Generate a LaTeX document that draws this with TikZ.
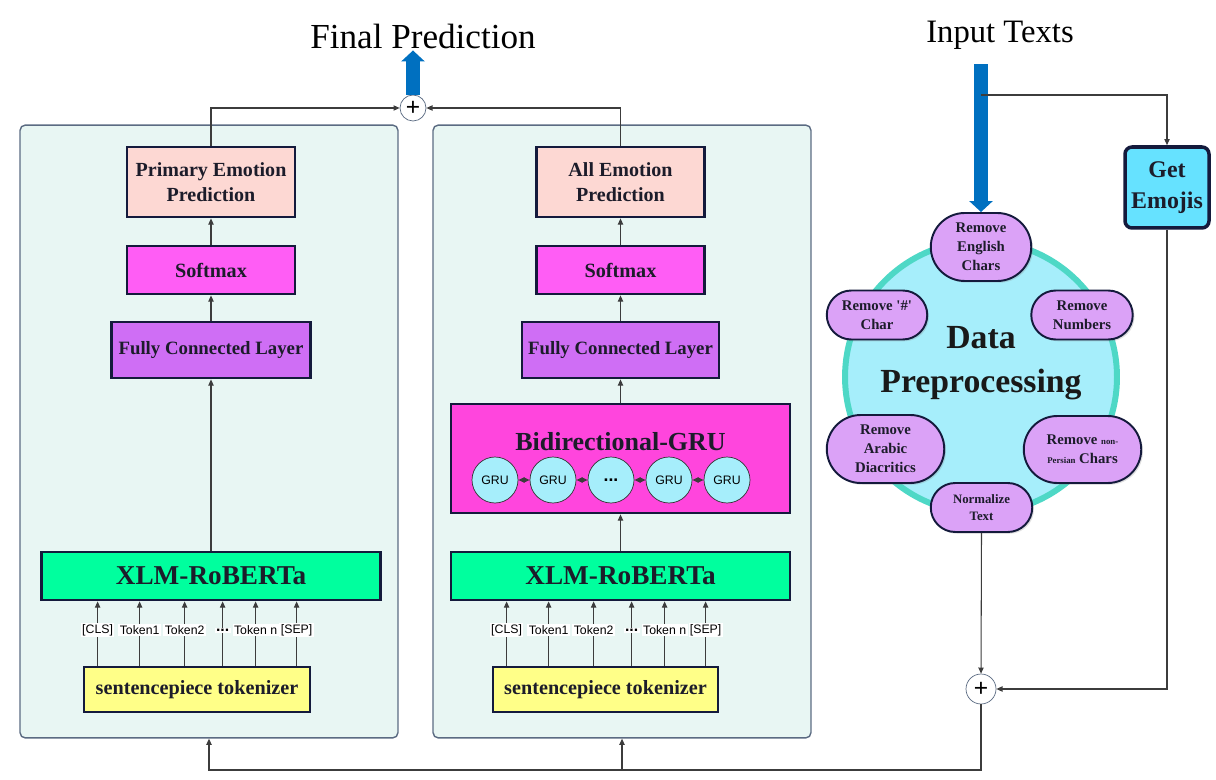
\documentclass[tikz,border=0pt]{standalone}
\usepackage{fontspec}
\setmainfont{Liberation Serif}
\newfontfamily\arialf{Liberation Sans}
\usepackage{tikz}
\usetikzlibrary{shapes}
\usetikzlibrary{positioning}
\usetikzlibrary{arrows.meta,calc,shadows}
\newcommand{\fsz}[2]{\fontsize{#1}{#2}\selectfont}
\definecolor{navy}{HTML}{141A3C}
\definecolor{panelf}{HTML}{E8F6F3}
\definecolor{panelc}{HTML}{5B6B82}
\definecolor{predc}{HTML}{FDD8D3}
\definecolor{softc}{HTML}{FF5DF5}
\definecolor{fcc}{HTML}{CF6EF5}
\definecolor{gruboxc}{HTML}{FF45DD}
\definecolor{xlmc}{HTML}{00FF9E}
\definecolor{tokc}{HTML}{FFFF88}
\definecolor{cyanc}{HTML}{A6EEFB}
\definecolor{ringc}{HTML}{4ED8C6}
\definecolor{pillc}{HTML}{DBA2F7}
\definecolor{emoc}{HTML}{66E2FF}
\definecolor{bluec}{HTML}{0070C0}
\definecolor{linec}{HTML}{3C3C3C}
\definecolor{txt}{HTML}{1C1C2A}

\begin{document}
\begin{tikzpicture}[x=0.02cm,y=-0.02cm,>={Triangle[length=3.5pt,width=3pt]}]
\tikzstyle{panel}=[draw=panelc, fill=panelf, rounded corners=3pt, line width=0.8pt]
\tikzstyle{blk}=[draw=navy, line width=1.6pt, align=center, text=txt]
\tikzstyle{pill}=[rounded rectangle, draw=navy, line width=1.1pt, fill=pillc, align=center, inner sep=1pt, text=txt, drop shadow={opacity=0.25,shadow xshift=1pt,shadow yshift=-1pt}]
\tikzstyle{gru}=[circle, draw=black!80, fill=cyanc, minimum size=0.92cm, inner sep=0pt, font=\arialf\fsz{7}{8}]
\tikzstyle{plus}=[circle, draw=panelc, fill=white, inner sep=0pt, font=\arialf\fsz{14}{14}]
\tikzstyle{conn}=[draw=linec, line width=0.6pt]
\tikzstyle{tlbl}=[fill=white, inner sep=0.8pt, font=\arialf\fsz{7}{8}]
\tikzstyle{bigarr}=[draw=bluec, line width=0.28cm, -{Triangle[length=0.22cm,width=0.46cm]}]
\useasboundingbox (0,0) rectangle (1216,780);

% the two model panels
\node[panel, minimum width=7.56cm, minimum height=12.26cm] (panL) at (209,431.5) {};
\node[panel, minimum width=7.56cm, minimum height=12.26cm] (panR) at (622,431.5) {};

% left model
\node[blk, fill=predc, minimum width=3.36cm, minimum height=1.4cm, font=\bfseries\fsz{11.4}{14.2}] (pred1) at (211,182) {Primary Emotion\\Prediction};
\node[blk, fill=softc, minimum width=3.36cm, minimum height=0.96cm, font=\bfseries\fsz{11.5}{14}] (soft1) at (211,270) {Softmax};
\node[blk, fill=fcc, minimum width=3.98cm, minimum height=1.12cm, font=\bfseries\fsz{10.7}{13}] (fc1) at (211,350) {Fully Connected Layer};
\node[blk, fill=xlmc, minimum width=6.78cm, minimum height=0.96cm, font=\bfseries\fsz{15.5}{18}] (xlm1) at (211,576) {XLM-RoBERTa};
\node[blk, fill=tokc, minimum width=4.52cm, minimum height=0.9cm, font=\bfseries\fsz{11.5}{14}] (tok1) at (197,689.5) {sentencepiece tokenizer};

% right model
\node[blk, fill=predc, minimum width=3.36cm, minimum height=1.4cm, font=\bfseries\fsz{11.4}{14.2}] (pred2) at (620.5,182) {All Emotion\\Prediction};
\node[blk, fill=softc, minimum width=3.36cm, minimum height=0.96cm, font=\bfseries\fsz{11.5}{14}] (soft2) at (620.5,270) {Softmax};
\node[blk, fill=fcc, minimum width=3.94cm, minimum height=1.12cm, font=\bfseries\fsz{10.7}{13}] (fc2) at (620.5,350) {Fully Connected Layer};
\node[blk, fill=gruboxc, minimum width=6.78cm, minimum height=2.18cm] (bigru) at (620.5,458.5) {};
\node[font=\bfseries\fsz{14.8}{17}, text=txt] (bigrut) at (620.5,442) {Bidirectional-GRU};
\node[gru] (g1) at (495,480) {GRU};
\node[gru] (g2) at (553,480) {GRU};
\node[gru, font=\arialf\bfseries\fsz{10}{10}] (g3) at (611,480) {...};
\node[gru] (g4) at (669,480) {GRU};
\node[gru] (g5) at (727,480) {GRU};
\node[blk, fill=xlmc, minimum width=6.78cm, minimum height=0.96cm, font=\bfseries\fsz{15.5}{18}] (xlm2) at (620.5,576) {XLM-RoBERTa};
\node[blk, fill=tokc, minimum width=4.5cm, minimum height=0.9cm, font=\bfseries\fsz{11.5}{14}] (tok2) at (605.5,689.5) {sentencepiece tokenizer};

\foreach \a/\b in {g1/g2,g2/g3,g3/g4,g4/g5} \draw[conn,<->] (\a) -- (\b);

\foreach \dx/\t in {15/{[CLS]},57/Token1,102/Token2,140/{\fsz{9}{9}\textbf{...}},173/Token n,214/{[SEP]}} {
  \draw[conn,->] ($(tok1.north west)+(\dx,0)$) -- ($(tok1.north west |- xlm1.south)+(\dx,0)$) node[pos=0.55,tlbl] {\t};
  \draw[conn,->] ($(tok2.north west)+(\dx,0)$) -- ($(tok2.north west |- xlm2.south)+(\dx,0)$) node[pos=0.55,tlbl] {\t};
}

\draw[conn,->] (xlm1.north) -- (fc1.south);
\draw[conn,->] (fc1.north) -- (soft1.south);
\draw[conn,->] (soft1.north) -- (pred1.south);
\draw[conn,->] (xlm2.north) -- (bigru.south);
\draw[conn,->] (bigru.north) -- (fc2.south);
\draw[conn,->] (fc2.north) -- (soft2.south);
\draw[conn,->] (soft2.north) -- (pred2.south);

% joining the two predictions
\node[plus, minimum size=0.52cm] (plusL) at (413,108) {+};
\node[font=\fsz{20}{24}, inner sep=1pt] (final) at (423,36) {Final Prediction};
\draw[conn,->] (pred1.north) |- (plusL.west);
\draw[conn,->] (pred2.north) |- (plusL.east);
\draw[bigarr] (plusL.north) -- (plusL.north |- final.south);

% preprocessing
\node[font=\fsz{18.6}{22}, inner sep=1pt] (inp) at (1000,35) {Input Texts};
\node[circle, draw=ringc, line width=3.4pt, fill=cyanc, minimum size=5.44cm] (dp) at (981,377) {};
\node[font=\bfseries\fsz{19.2}{25}, align=center, text=black!90] (dptxt) at (981,363) {Data\\Preprocessing};
\node[pill, minimum width=2.08cm, minimum height=1.36cm, font=\bfseries\fsz{8.4}{10.8}] (eng) at (981,247) {Remove\\English\\Chars};
\node[pill, minimum width=2.08cm, minimum height=0.98cm, font=\bfseries\fsz{8.4}{10.8}] (hash) at (877,315) {Remove \textquotesingle\#\textquotesingle\\Char};
\node[pill, minimum width=2.1cm, minimum height=0.98cm, font=\bfseries\fsz{8.4}{10.8}] (num) at (1082,315) {Remove\\Numbers};
\node[pill, minimum width=2.42cm, minimum height=1.36cm, font=\bfseries\fsz{8.4}{10.8}] (ara) at (885.5,449) {Remove\\Arabic\\Diacritics};
\node[pill, minimum width=2.42cm, minimum height=1.34cm, font=\bfseries\fsz{8.4}{10.8}] (nonp) at (1082.5,449.5) {Remove {\fsz{5}{6}non-}\\{\fsz{5}{6}Persian} Chars};
\node[pill, minimum width=2.1cm, minimum height=0.98cm, font=\bfseries\fsz{7.3}{10}] (norm) at (981.5,507.5) {Normalize\\Text};
\node[blk, fill=emoc, rounded corners=4pt, line width=2pt, minimum width=1.68cm, minimum height=1.62cm, font=\bfseries\fsz{13.6}{17.6}] (emo) at (1167,187.5) {Get\\Emojis};
\node[plus, minimum size=0.6cm] (plusR) at (981,689) {+};

\coordinate (br) at (eng.north |- 0,95);
\coordinate (bus) at (plusR |- 0,770);
\draw[bigarr] ($(inp.south -| eng.north)+(0,13)$) -- (eng.north);
\draw[conn,->] (br) -| (emo.north);
\draw[conn,->] (emo.south) |- (plusR.east);
\draw[conn,->] (norm.south) -- (plusR.north);
\draw[conn,->] (plusR.south) -- (bus) -| (panL.south);
\draw[conn,->] (bus -| panR.south) -- (panR.south);
\end{tikzpicture}
\end{document}
